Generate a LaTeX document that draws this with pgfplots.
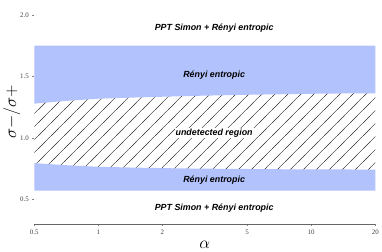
\documentclass[border=0pt]{standalone}
\usepackage{pgfplots}
\pgfplotsset{compat=1.18}
\usepackage{fontspec}
\setmainfont{Liberation Serif}
\newfontfamily\labfont{Liberation Sans}
\usetikzlibrary{patterns}
\pgfdeclarepatternformonly{myhatch}{\pgfqpoint{0bp}{0bp}}{\pgfqpoint{13bp}{13bp}}{\pgfqpoint{13bp}{13bp}}{%
  \pgfsetlinewidth{0.45pt}%
  \pgfpathmoveto{\pgfqpoint{-2bp}{-2bp}}\pgfpathlineto{\pgfqpoint{15bp}{15bp}}%
  \pgfusepath{stroke}}
\definecolor{rblue}{RGB}{178,194,252}
\begin{document}
\begin{tikzpicture}
\begin{axis}[
  scale only axis, width=344bp, height=226bp,
  xmode=log, xmin=0.5, xmax=20, ymin=0.3, ymax=2.12,
  axis x line*=bottom, axis y line*=left,
  y axis line style={draw=none},
  x axis line style={gray!80!black, -},
  xtick={0.5,1,2,5,10,20}, xticklabels={0.5,1,2,5,10,20},
  log ticks with fixed point,
  ytick={0.5,1.0,1.5,2.0},
  yticklabel style={/pgf/number format/.cd, fixed, fixed zerofill, precision=1},
  /pgf/number format/assume math mode=true,
  tick label style={font=\fontsize{7}{8}\selectfont, text=black!75},
  tick style={gray, thin}, major tick length=2bp, minor tick length=0pt,
  tick align=outside,
  xlabel={$\alpha$}, ylabel={$\sigma{-}/\sigma{+}$},
  xlabel style={font=\fontsize{16}{16}\selectfont, yshift=0bp},
  ylabel style={font=\fontsize{17}{17}\selectfont, yshift=-7bp},
  clip=false,
]
\addplot[fill=rblue, draw=none] coordinates {
 (0.5,1.75) (20,1.75) (20,1.362) (15,1.361) (10,1.358) (7,1.354) (5,1.350) (3,1.342) (2,1.334) (1.5,1.328) (1,1.318) (0.7,1.300) (0.5,1.278)
} -- cycle;
\addplot[fill=rblue, draw=none] coordinates {
 (0.5,0.795) (0.7,0.778) (1,0.765) (1.5,0.758) (2,0.754) (3,0.750) (5,0.747) (7,0.745) (10,0.744) (15,0.743) (20,0.742) (20,0.571) (0.5,0.571)
} -- cycle;
\addplot[pattern=myhatch, pattern color=black!85, draw=none] coordinates {
 (0.5,1.278) (0.7,1.300) (1,1.318) (1.5,1.328) (2,1.334) (3,1.342) (5,1.350) (7,1.354) (10,1.358) (15,1.361) (20,1.362)
 (20,0.742) (15,0.743) (10,0.744) (7,0.745) (5,0.747) (3,0.750) (2,0.754) (1.5,0.758) (1,0.765) (0.7,0.778) (0.5,0.795)
} -- cycle;
\begin{scope}[every node/.style={font=\labfont\bfseries\itshape\fontsize{9}{10}\selectfont}]
\node at (axis cs:3.5,1.895) {PPT Simon + Rényi entropic};
\node at (axis cs:3.5,1.51) {Rényi entropic};
\node[fill=white, inner sep=1pt] at (axis cs:3.5,1.04) {undetected region};
\node at (axis cs:3.5,0.66) {Rényi entropic};
\node at (axis cs:3.5,0.43) {PPT Simon + Rényi entropic};
\end{scope}
\end{axis}
\end{tikzpicture}
\end{document}
